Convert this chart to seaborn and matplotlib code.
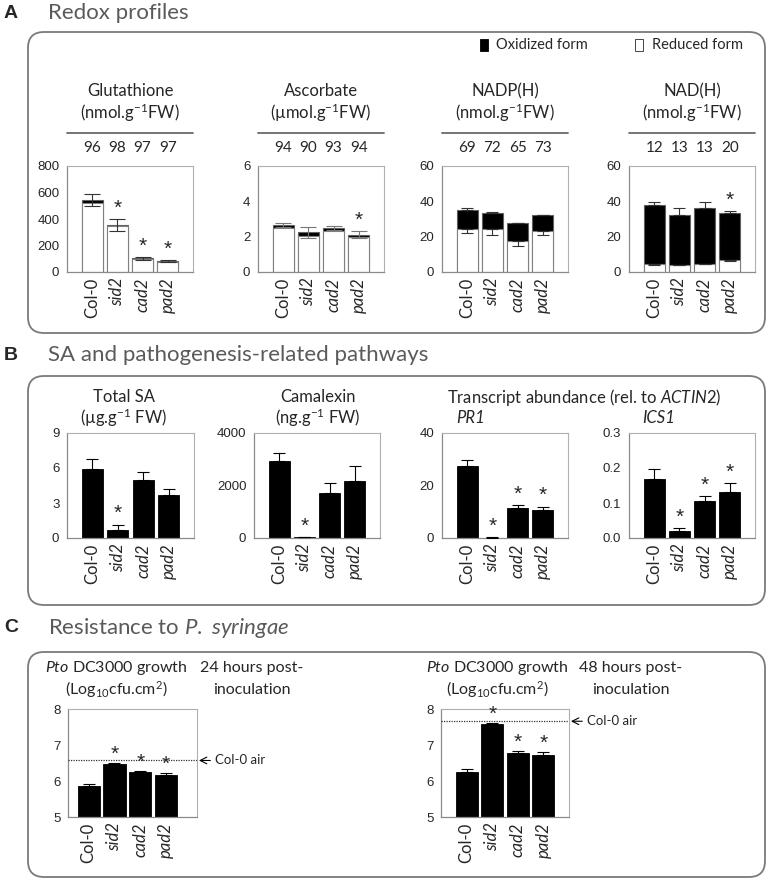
import numpy as np
import pandas as pd
import matplotlib
matplotlib.use("Agg")
import matplotlib.pyplot as plt
import matplotlib.transforms as mtransforms
from matplotlib.patches import FancyBboxPatch, Rectangle
from matplotlib.lines import Line2D
import seaborn as sns

sns.set_style("white")
plt.rcParams["font.family"] = ["Liberation Sans", "DejaVu Sans"]
plt.rcParams["mathtext.fontset"] = "custom"
plt.rcParams["mathtext.rm"] = "Lato"
plt.rcParams["mathtext.it"] = "Lato:italic"
plt.rcParams["mathtext.bf"] = "Lato:bold"

# ---------------- data ----------------
genotypes = ["Col-0", "sid2", "cad2", "pad2"]

# Panel A - redox profiles (total = oxidized + reduced)
glut_total = [545, 355, 102, 80]
glut_reduced = [523, 348, 99, 78]
glut_err = [45, 42, 8, 8]
glut_pct = [96, 98, 97, 97]
glut_sig = [0, 1, 1, 1]

asc_total = [2.65, 2.25, 2.50, 2.10]
asc_reduced = [2.49, 2.03, 2.33, 1.97]
asc_err = [0.10, 0.32, 0.12, 0.20]
asc_pct = [94, 90, 93, 94]
asc_sig = [0, 0, 0, 1]

nadp_total = [35.0, 33.5, 27.5, 32.0]
nadp_reduced = [24.3, 24.2, 17.8, 23.3]
nadp_err_up = [1.2, 0.3, 0.3, 0.4]
nadp_err_down = [2.2, 3.0, 2.8, 2.5]
nadp_pct = [69, 72, 65, 73]
nadp_sig = [0, 0, 0, 0]

nad_total = [38.0, 32.0, 36.0, 33.5]
nad_reduced = [4.6, 4.0, 4.6, 6.6]
nad_err_up = [1.6, 4.0, 3.5, 1.0]
nad_err_down = [0.4, 0.3, 0.3, 0.3]
nad_pct = [12, 13, 13, 20]
nad_sig = [0, 0, 0, 1]

# Panel B - SA and pathogenesis-related pathways
sa = [5.9, 0.65, 5.0, 3.65]
sa_err = [0.85, 0.5, 0.62, 0.55]
sa_sig = [0, 1, 0, 0]
cam = [2950, 25, 1730, 2180]
cam_err = [300, 10, 350, 550]
cam_sig = [0, 1, 0, 0]
pr1 = [27.6, 0.15, 11.5, 10.5]
pr1_err = [2.3, 0.1, 1.0, 1.5]
pr1_sig = [0, 1, 1, 1]
ics1 = [0.168, 0.019, 0.107, 0.132]
ics1_err = [0.028, 0.010, 0.012, 0.024]
ics1_sig = [0, 1, 1, 1]

# Panel C - resistance to P. syringae
h24 = [5.87, 6.46, 6.26, 6.17]
h24_err = [0.05, 0.05, 0.03, 0.06]
h24_sig = [0, 1, 1, 1]
air24 = 6.57
h48 = [6.25, 7.57, 6.77, 6.73]
h48_err = [0.08, 0.05, 0.07, 0.08]
h48_sig = [0, 1, 1, 1]
air48 = 7.66

# ---------------- layout helpers ----------------
W, H = 768, 882
fig = plt.figure(figsize=(W / 100, H / 100), dpi=100)


def fx(x):
    return x / W


def fy(y):
    return 1 - y / H


def add_ax(x0, y0, x1, y1):
    return fig.add_axes([fx(x0), fy(y1), (x1 - x0) / W, (y1 - y0) / H])


def box(x0, y0, x1, y1):
    p = FancyBboxPatch((x0 / 100, (H - y1) / 100), (x1 - x0) / 100, (y1 - y0) / 100,
                       boxstyle="round,pad=0,rounding_size=0.16",
                       transform=fig.dpi_scale_trans, fc="none", ec="#7a7a7a", lw=1.3)
    fig.add_artist(p)


TITLE_FONT = "Lato"
TSIZE = 12
limits = []


def style_ax(ax, ylim, yticks, yfmt=None, xlim=(-1, 4)):
    limits.append((ax, xlim, ylim))
    ax.set_xlim(*xlim)
    ax.set_ylim(*ylim)
    ax.set_yticks(yticks)
    if yfmt:
        ax.set_yticklabels([yfmt.format(v) for v in yticks])
    ax.set_xlabel("")
    ax.set_ylabel("")
    for s in ["top", "right"]:
        ax.spines[s].set_color("#b0b0b0")
        ax.spines[s].set_linewidth(0.8)
    for s in ["left", "bottom"]:
        ax.spines[s].set_color("#8a8a8a")
        ax.spines[s].set_linewidth(0.9)
    ax.tick_params(axis="y", length=3.5, width=0.8, color="#8a8a8a", labelsize=9.5, pad=2)
    ax.tick_params(axis="x", length=0, pad=4)
    ax.set_xticks(range(len(genotypes)))
    ax.set_xticklabels(genotypes, rotation=90, fontsize=12, family=TITLE_FONT)
    for i, lbl in enumerate(ax.get_xticklabels()):
        if i > 0:
            lbl.set_fontstyle("italic")


def stars(ax, tops, sig, off=1.0):
    for i, (t, s) in enumerate(zip(tops, sig)):
        if s:
            ax.annotate("*", xy=(i, t), xytext=(0, off), textcoords="offset points",
                        ha="center", va="bottom", fontsize=15, family="Liberation Sans")


def black_bars(ax, vals, width=0.83):
    df = pd.DataFrame({"genotype": genotypes, "value": vals})
    sns.barplot(data=df, x="genotype", y="value", order=genotypes, color="black",
                edgecolor="black", linewidth=0.6, width=width, saturation=1,
                errorbar=None, ax=ax)


def stacked_bars(ax, total, reduced):
    df = pd.DataFrame({"genotype": genotypes, "total": total, "reduced": reduced})
    sns.barplot(data=df, x="genotype", y="total", order=genotypes, color="black",
                edgecolor="#606060", linewidth=0.8, width=0.83, saturation=1,
                errorbar=None, ax=ax)
    sns.barplot(data=df, x="genotype", y="reduced", order=genotypes, color="white",
                edgecolor="#808080", linewidth=0.8, width=0.83, saturation=1,
                errorbar=None, ax=ax)


def title2(cx_px, l1, l2, y1, y2, size=TSIZE):
    fig.text(fx(cx_px), fy(y1), l1, ha="center", va="center", fontsize=size, family=TITLE_FONT)
    fig.text(fx(cx_px), fy(y2), l2, ha="center", va="center", fontsize=size, family=TITLE_FONT)


def section(letter, title, y):
    fig.text(fx(4), fy(y), letter, ha="left", va="center", fontsize=14,
             weight="bold", family="Liberation Sans")
    fig.text(fx(48), fy(y), title, ha="left", va="center", fontsize=16,
             color="#5a5a5a", family=TITLE_FONT)


idx = np.arange(len(genotypes))
zeros = np.zeros(len(genotypes))

# ================= Panel A =================
section("A", "Redox profiles", 13)
box(28, 32, 765, 333)

# legend
fig.add_artist(Rectangle((fx(480), fy(51)), 8 / W, 12 / H, transform=fig.transFigure,
                         fc="black", ec="black", lw=0.6))
fig.text(fx(496), fy(45), "Oxidized form", ha="left", va="center", fontsize=10.5,
         family=TITLE_FONT)
fig.add_artist(Rectangle((fx(635), fy(51)), 8 / W, 12 / H, transform=fig.transFigure,
                         fc="white", ec="#444444", lw=0.7))
fig.text(fx(652), fy(45), "Reduced form", ha="left", va="center", fontsize=10.5,
         family=TITLE_FONT)

A_x = [(67, 193), (258, 384), (442, 568), (629, 755)]
A_titles = [("Glutathione", r"(nmol.g$^{\mathregular{-1}}$FW)"),
            ("Ascorbate", r"(µmol.g$^{\mathregular{-1}}$FW)"),
            ("NADP(H)", r"(nmol.g$^{\mathregular{-1}}$FW)"),
            ("NAD(H)", r"(nmol.g$^{\mathregular{-1}}$FW)")]
A_pcts = [glut_pct, asc_pct, nadp_pct, nad_pct]
axesA = [add_ax(x0, 166, x1, 272) for x0, x1 in A_x]

# Glutathione
ax = axesA[0]
stacked_bars(ax, glut_total, glut_reduced)
ax.errorbar(idx, glut_total, yerr=glut_err, fmt="none", ecolor="#333333",
            elinewidth=0.8, capsize=5.5, capthick=0.8, zorder=5)
stars(ax, np.add(glut_total, glut_err), glut_sig)
style_ax(ax, (0, 800), [0, 200, 400, 600, 800])

# Ascorbate
ax = axesA[1]
stacked_bars(ax, asc_total, asc_reduced)
ax.errorbar(idx, asc_total, yerr=asc_err, fmt="none", ecolor="#777777",
            elinewidth=0.8, capsize=5.5, capthick=0.8, zorder=5)
stars(ax, np.add(asc_total, asc_err), asc_sig)
style_ax(ax, (0, 6), [0, 2, 4, 6])

# NADP(H)
ax = axesA[2]
stacked_bars(ax, nadp_total, nadp_reduced)
ax.errorbar(idx, nadp_total, yerr=[zeros, nadp_err_up], fmt="none", ecolor="#333333",
            elinewidth=0.8, capsize=4, capthick=0.8, zorder=5)
ax.errorbar(idx, nadp_reduced, yerr=[nadp_err_down, zeros], fmt="none", ecolor="#333333",
            elinewidth=0.8, capsize=4, capthick=0.8, zorder=5)
stars(ax, np.add(nadp_total, nadp_err_up), nadp_sig)
style_ax(ax, (0, 60), [0, 20, 40, 60])

# NAD(H)
ax = axesA[3]
stacked_bars(ax, nad_total, nad_reduced)
ax.errorbar(idx, nad_total, yerr=[zeros, nad_err_up], fmt="none", ecolor="#333333",
            elinewidth=0.8, capsize=4, capthick=0.8, zorder=5)
ax.errorbar(idx, nad_reduced, yerr=[nad_err_down, zeros], fmt="none", ecolor="#333333",
            elinewidth=0.8, capsize=4, capthick=0.8, zorder=5)
stars(ax, np.add(nad_total, nad_err_up), nad_sig)
style_ax(ax, (0, 60), [0, 20, 40, 60])

for ax, (x0, x1), (t1, t2), pcts in zip(axesA, A_x, A_titles, A_pcts):
    title2((x0 + x1) / 2, t1, t2, 91, 113)
    fig.add_artist(Line2D([fx(x0), fx(x1)], [fy(133), fy(133)], transform=fig.transFigure,
                          color="#6a6a6a", lw=1.3))
    tr = mtransforms.blended_transform_factory(ax.transData, fig.transFigure)
    for i, p in enumerate(pcts):
        ax.text(i, fy(148), str(p), transform=tr, ha="center", va="center",
                fontsize=11, family=TITLE_FONT)

# ================= Panel B =================
section("B", "SA and pathogenesis-related pathways", 355)
box(28, 376, 765, 605)

B_x = [(67, 194), (254, 380), (442, 568), (629, 755)]
axesB = [add_ax(x0, 433, x1, 538) for x0, x1 in B_x]

specs = [(sa, sa_err, sa_sig, (0, 9), [0, 3, 6, 9], None),
         (cam, cam_err, cam_sig, (0, 4000), [0, 2000, 4000], None),
         (pr1, pr1_err, pr1_sig, (0, 40), [0, 20, 40], None),
         (ics1, ics1_err, ics1_sig, (0, 0.3), [0, 0.1, 0.2, 0.3], "{:.1f}")]
for ax, (vals, err, sig, ylim, yt, fmt) in zip(axesB, specs):
    black_bars(ax, vals)
    ax.errorbar(idx, vals, yerr=[zeros, err], fmt="none", ecolor="black",
                elinewidth=0.8, capsize=4, capthick=0.8, zorder=5)
    stars(ax, np.add(vals, err), sig)
    style_ax(ax, ylim, yt, fmt)

title2(124, "Total SA", r"(µg.g$^{\mathregular{-1}}$ FW)", 397, 418)
title2(318, "Camalexin", r"(ng.g$^{\mathregular{-1}}$ FW)", 397, 418)
fig.text(fx(584), fy(397), r"Transcript abundance (rel. to $\mathit{ACTIN2)}$",
         ha="center", va="center", fontsize=TSIZE, family=TITLE_FONT)
fig.text(fx(456), fy(418), "PR1", ha="left", va="center", fontsize=TSIZE,
         family=TITLE_FONT, style="italic")
fig.text(fx(642), fy(418), "ICS1", ha="left", va="center", fontsize=TSIZE,
         family=TITLE_FONT, style="italic")

# ================= Panel C =================
section("C", r"Resistance to $\mathit{P.\ syringae}$", 628)
box(28, 652, 765, 877)

axC24 = add_ax(68, 709, 197, 817)
axC48 = add_ax(441, 709, 569, 817)

for ax, vals, err, sig, air, xl in [(axC24, h24, h24_err, h24_sig, air24, (-0.8, 4.2)),
                                    (axC48, h48, h48_err, h48_sig, air48, (-1, 4))]:
    black_bars(ax, vals, width=0.86)
    ax.errorbar(idx, vals, yerr=[zeros, err], fmt="none", ecolor="black",
                elinewidth=0.8, capsize=4, capthick=0.8, zorder=5)
    ax.axhline(air, ls=(0, (1, 1)), color="#333333", lw=0.9, zorder=4)
    stars(ax, np.add(vals, err), sig, off=-1)
    style_ax(ax, (5, 8), [5, 6, 7, 8], xlim=xl)
    tr = mtransforms.blended_transform_factory(ax.transAxes, ax.transData)
    ax.annotate("Col-0 air", xy=(1.015, air), xycoords=tr, xytext=(1.14, air),
                textcoords=tr, ha="left", va="center", fontsize=9.5, family=TITLE_FONT,
                annotation_clip=False,
                arrowprops=dict(arrowstyle="->", color="black", lw=0.8,
                                shrinkA=1, shrinkB=0, mutation_scale=12))

CSIZE = 11.5
for cx_g, hours, cx_t in [(116, "24", 252), (497, "48", 631)]:
    title2(cx_g, r"$\mathit{Pto}$ DC3000 growth",
           r"(Log$_{\mathregular{10}}$cfu.cm$^{\mathregular{2}}$)", 668, 690, size=CSIZE)
    fig.text(fx(cx_t), fy(668), f"{hours} hours post-", ha="center", va="center",
             fontsize=CSIZE, family=TITLE_FONT)
    fig.text(fx(cx_t), fy(690), "inoculation", ha="center", va="center",
             fontsize=CSIZE, family=TITLE_FONT)

# enforce the intended limits last
for ax, xl, yl in limits:
    ax.set_autoscale_on(False)
    ax.set_xlim(*xl)
    ax.set_ylim(*yl)

fig.savefig("out.png", dpi=100, facecolor="white")
